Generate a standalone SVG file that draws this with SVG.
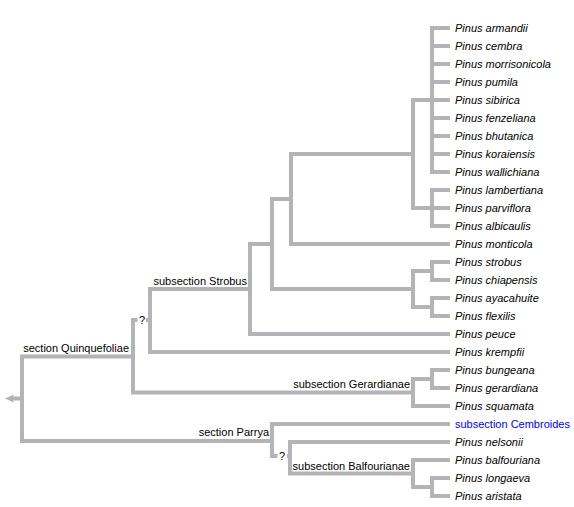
<svg xmlns="http://www.w3.org/2000/svg" width="574" height="507" viewBox="0 0 574 507">
<style>
.e{fill:none;stroke:#b4b4b8;stroke-width:4;stroke-linejoin:miter;stroke-linecap:butt}
.leaf{font-family:"Liberation Sans",Arial,sans-serif;font-size:11px;font-style:italic;fill:#000}
.lab{font-family:"Liberation Sans",Arial,sans-serif;font-size:11px;fill:#000;text-anchor:end}
.q{font-family:"Liberation Sans",Arial,sans-serif;font-size:11px;fill:#000;text-anchor:middle}
.blue{font-family:"Liberation Sans",Arial,sans-serif;font-size:11px;fill:#0000ff}
</style>
<rect width="574" height="507" fill="#fff"/>
<g id="connectors">
<path class="e" d="M450,28H432V172H450M432,46H450M432,64H450M432,82H450M432,100H450M432,118H450M432,136H450M432,154H450"/>
<path class="e" d="M450,190H432V226H450M432,208H450"/>
<path class="e" d="M432,100H413V208H432"/>
<path class="e" d="M413,154H291V244H450"/>
<path class="e" d="M450,262H432V280H450"/>
<path class="e" d="M450,298H432V316H450"/>
<path class="e" d="M432,271H413V307H432"/>
<path class="e" d="M291,199H272V289H413"/>
<path class="e" d="M272,244H250V334H450"/>
<path class="e" d="M250,289H150V352H450"/>
<path class="e" d="M450,370H432V388H450"/>
<path class="e" d="M432,379H413V406H450"/>
<path class="e" d="M137.5,320H133V392.5H413M146,320H150"/>
<path class="e" d="M450,478H432V496H450"/>
<path class="e" d="M450,460H413V487H432"/>
<path class="e" d="M413,473.5H290V442H450"/>
<path class="e" d="M277.5,456H272V424H450M287,456H290"/>
<path class="e" d="M272,441H22V356.5H133"/>
<path class="e" d="M22,398.5H13"/>
<path d="M5,398.5L13.5,394.5V402.5Z" fill="#b4b4b8"/>
</g>
<g id="n_armandii"><text class="leaf" x="455" y="32">Pinus armandii</text></g>
<g id="n_cembra"><text class="leaf" x="455" y="50">Pinus cembra</text></g>
<g id="n_morrisonicola"><text class="leaf" x="455" y="68">Pinus morrisonicola</text></g>
<g id="n_pumila"><text class="leaf" x="455" y="86">Pinus pumila</text></g>
<g id="n_sibirica"><text class="leaf" x="455" y="104">Pinus sibirica</text></g>
<g id="n_fenzeliana"><text class="leaf" x="455" y="122">Pinus fenzeliana</text></g>
<g id="n_bhutanica"><text class="leaf" x="455" y="140">Pinus bhutanica</text></g>
<g id="n_koraiensis"><text class="leaf" x="455" y="158">Pinus koraiensis</text></g>
<g id="n_wallichiana"><text class="leaf" x="455" y="176">Pinus wallichiana</text></g>
<g id="n_lambertiana"><text class="leaf" x="455" y="194">Pinus lambertiana</text></g>
<g id="n_parviflora"><text class="leaf" x="455" y="212">Pinus parviflora</text></g>
<g id="n_albicaulis"><text class="leaf" x="455" y="230">Pinus albicaulis</text></g>
<g id="n_monticola"><text class="leaf" x="455" y="248">Pinus monticola</text></g>
<g id="n_strobus"><text class="leaf" x="455" y="266">Pinus strobus</text></g>
<g id="n_chiapensis"><text class="leaf" x="455" y="284">Pinus chiapensis</text></g>
<g id="n_ayacahuite"><text class="leaf" x="455" y="302">Pinus ayacahuite</text></g>
<g id="n_flexilis"><text class="leaf" x="455" y="320">Pinus flexilis</text></g>
<g id="n_peuce"><text class="leaf" x="455" y="338">Pinus peuce</text></g>
<g id="n_krempfii"><text class="leaf" x="455" y="356">Pinus krempfii</text></g>
<g id="n_bungeana"><text class="leaf" x="455" y="374">Pinus bungeana</text></g>
<g id="n_gerardiana"><text class="leaf" x="455" y="392">Pinus gerardiana</text></g>
<g id="n_squamata"><text class="leaf" x="455" y="410">Pinus squamata</text></g>
<g id="n_cembroides"><text class="blue" x="455" y="428">subsection Cembroides</text></g>
<g id="n_nelsonii"><text class="leaf" x="455" y="446">Pinus nelsonii</text></g>
<g id="n_balfouriana"><text class="leaf" x="455" y="464">Pinus balfouriana</text></g>
<g id="n_longaeva"><text class="leaf" x="455" y="482">Pinus longaeva</text></g>
<g id="n_aristata"><text class="leaf" x="455" y="500">Pinus aristata</text></g>
<g id="n_strobus_sub"><text class="lab" x="247" y="285">subsection Strobus</text></g>
<g id="n_q1"><text class="q" x="142" y="324">?</text></g>
<g id="n_gerardianae"><text class="lab" x="410" y="388">subsection Gerardianae</text></g>
<g id="n_quinquefoliae"><text class="lab" x="129" y="352">section Quinquefoliae</text></g>
<g id="n_parrya"><text class="lab" x="269" y="436">section Parrya</text></g>
<g id="n_q2"><text class="q" x="282" y="460">?</text></g>
<g id="n_balfourianae"><text class="lab" x="410" y="470">subsection Balfourianae</text></g>
</svg>
